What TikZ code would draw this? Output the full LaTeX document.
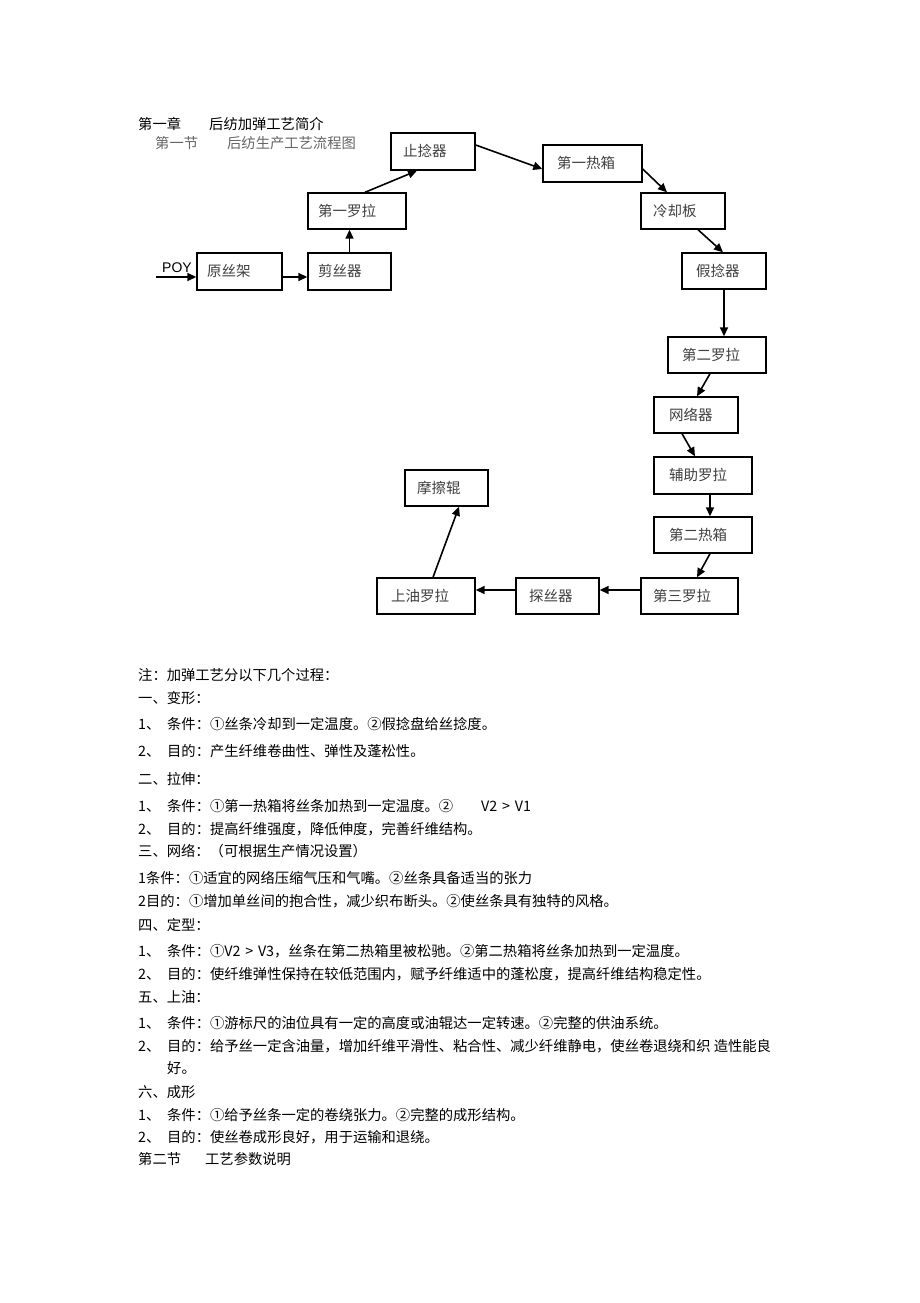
\documentclass[tikz,border=0pt]{standalone}
\usepackage{fontspec}
\newfontfamily\cjk{Noto Sans CJK SC}
\newfontfamily\lsans{Liberation Sans}
\usetikzlibrary{arrows.meta,calc}
\tikzset{
 fbox/.style={draw=black, line width=1.4pt, inner xsep=0pt, inner ysep=0pt, text height=12.5pt, text depth=1.9pt, font=\cjk\fontsize{14.5}{16}\selectfont, text=black!75},
 conn/.style={draw=black, line width=1.6pt, -{Triangle[length=9pt,width=8pt]}},
 txt/.style={anchor=base west, inner sep=0pt, font=\cjk\fontsize{14.3}{16}\selectfont, text=black},
}
\newcommand\fbx[7]{\node[fbox, minimum height=#5pt] (#1) at (#2,#3) {\makebox[#4pt][l]{\hspace*{#6pt}#7}};}
\newcommand\nb[1]{\makebox[29pt][l]{#1}}
\begin{document}
\begin{tikzpicture}[x=1pt,y=-1pt]
\fill[white] (0,0) rectangle (920,1303);
\useasboundingbox (0,0) rectangle (920,1303);
% titles
\node[txt] (title1) at (138,129.4) {\makebox[71pt][l]{第一章}后纺加弹工艺简介};
\node[txt, text=black!60] (title2) at (155,148.4) {\makebox[72pt][l]{第一节}后纺生产工艺流程图};
% boxes
\fbx{yuan}{239.5}{271.5}{85}{37}{10}{原丝架}
\fbx{jian}{349.5}{271.5}{83}{37}{10}{剪丝器}
\fbx{luo1}{357}{211}{98}{36}{10}{第一罗拉}
\fbx{zhi}{433}{151.5}{84}{37}{12}{止捻器}
\fbx{re1}{592.5}{163.5}{99}{37}{14}{第一热箱}
\fbx{lq}{683}{211}{84}{36}{12}{冷却板}
\fbx{jia}{724}{271}{84}{36}{14}{假捻器}
\fbx{luo2}{717}{355}{98}{36}{14}{第二罗拉}
\fbx{wang}{696}{415}{84}{36}{15}{网络器}
\fbx{fu}{703}{475.5}{98}{37}{15}{辅助罗拉}
\fbx{re2}{703}{535}{98}{36}{15}{第二热箱}
\fbx{luo3}{689.5}{596}{97}{36}{12}{第三罗拉}
\fbx{tan}{557.5}{596}{83}{36}{13}{探丝器}
\fbx{you}{426}{596}{98}{36}{14}{上油罗拉}
\fbx{mo}{446.5}{488}{83}{36}{12}{摩擦辊}
% POY input
\node[anchor=base west, inner sep=0pt, font=\lsans\fontsize{14}{16}\selectfont] (poy) at (162,272) {POY};
\coordinate (poyin) at (156,277);
% connectors
\draw[conn] (poyin) -- (yuan.west |- poyin);
\draw[conn] ([yshift=-5.5pt]yuan.east) -- ([yshift=-5.5pt]jian.west);
\draw[conn] (jian.north) -- (jian.north |- luo1.south);
\draw[conn] ([xshift=8pt]luo1.north) -- ([xshift=-16pt]zhi.south);
\draw[conn] ([yshift=6.5pt]zhi.east) -- ([yshift=-5.5pt]re1.west);
\draw[conn] ([yshift=-5.5pt]re1.east) -- ([xshift=-16pt]lq.north);
\draw[conn] ([xshift=15pt]lq.south) -- ([xshift=-1pt]jia.north);
\draw[conn] (jia.south) -- (jia.south |- luo2.north);
\draw[conn] ([xshift=-7pt]luo2.south) -- ([xshift=1pt]wang.north);
\draw[conn] ([xshift=-14pt]wang.south) -- ([xshift=-8pt]fu.north);
\draw[conn] ([xshift=7pt]fu.south) -- ([xshift=7pt]re2.north);
\draw[conn] ([xshift=7pt]re2.south) -- ([xshift=7.5pt]luo3.north);
\draw[conn] ([yshift=6pt]luo3.west) -- ([yshift=6pt]tan.east);
\draw[conn] ([yshift=6pt]tan.west) -- ([yshift=6pt]you.east);
\draw[conn] ([xshift=7pt]you.north) -- ([xshift=12.5pt]mo.south);
% notes
\node[txt] (t1) at (138,680.4) {注：加弹工艺分以下几个过程：};
\node[txt] (t2) at (138,703.4) {一、变形：};
\node[txt] (t3) at (138,729.4) {\nb{1、}条件：①丝条冷却到一定温度。②假捻盘给丝捻度。};
\node[txt] (t4) at (138,756.4) {\nb{2、}目的：产生纤维卷曲性、弹性及蓬松性。};
\node[txt] (t5) at (138,784.4) {二、拉伸：};
\node[txt] (t6) at (138,811.4) {\nb{1、}条件：①第一热箱将丝条加热到一定温度。②\hspace*{28pt}V2\,\,>\,\,V1};
\node[txt] (t7) at (138,834.4) {\nb{2、}目的：提高纤维强度，降低伸度，完善纤维结构。};
\node[txt] (t8) at (138,856.4) {三、网络：（可根据生产情况设置）};
\node[txt] (t9) at (138,883.4) {1条件：①适宜的网络压缩气压和气嘴。②丝条具备适当的张力};
\node[txt] (t10) at (138,906.4) {2目的：①增加单丝间的抱合性，减少织布断头。②使丝条具有独特的风格。};
\node[txt] (t11) at (138,930.4) {四、定型：};
\node[txt] (t12) at (138,956.4) {\nb{1、}条件：①V2\,\,>\,\,V3，丝条在第二热箱里被松驰。②第二热箱将丝条加热到一定温度。};
\node[txt] (t13) at (138,979.4) {\nb{2、}目的：使纤维弹性保持在较低范围内，赋予纤维适中的蓬松度，提高纤维结构稳定性。};
\node[txt] (t14) at (138,1002.4) {五、上油：};
\node[txt] (t15) at (138,1028.4) {\nb{1、}条件：①游标尺的油位具有一定的高度或油辊达一定转速。②完整的供油系统。};
\node[txt] (t16) at (138,1051.4) {\nb{2、}目的：给予丝一定含油量，增加纤维平滑性、粘合性、减少纤维静电，使丝卷退绕和织 造性能良};
\node[txt] (t17) at (167,1073.4) {好。};
\node[txt] (t18) at (138,1097.4) {六、成形};
\node[txt] (t19) at (138,1120.4) {\nb{1、}条件：①给予丝条一定的卷绕张力。②完整的成形结构。};
\node[txt] (t20) at (138,1142.4) {\nb{2、}目的：使丝卷成形良好，用于运输和退绕。};
\node[txt] (t21) at (138,1164.4) {\makebox[67pt][l]{第二节}工艺参数说明};
\end{tikzpicture}
\end{document}
